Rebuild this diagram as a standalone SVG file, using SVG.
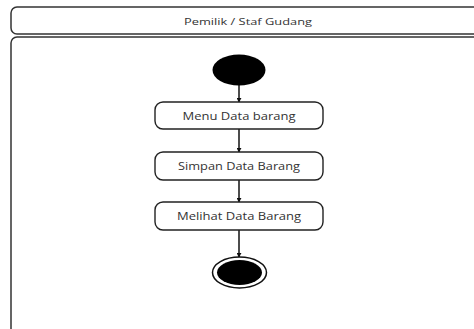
<svg xmlns="http://www.w3.org/2000/svg" width="474" height="329" viewBox="0 0 474 329">
<style>
.frame{fill:#fff;stroke:#333;stroke-width:1.5}
.act{fill:#fff;stroke:#222;stroke-width:1.4}
.lbl{font-family:"Open Sans","Liberation Sans",sans-serif;font-size:10px;fill:#333;text-anchor:middle;dominant-baseline:central}
.conn{stroke:#111;stroke-width:1.5;fill:none;marker-end:url(#ah)}
</style>
<defs>
<marker id="ah" viewBox="0 0 6 6" refX="5" refY="3" markerWidth="5" markerHeight="5" orient="auto" markerUnits="userSpaceOnUse">
<path d="M0,0 L6,3 L0,6 z" fill="#111"/>
</marker>
</defs>
<rect width="474" height="329" fill="#fff"/>
<g id="header">
<rect class="frame" x="11" y="7" width="480" height="27" rx="6"/>
<text class="lbl" x="248" y="21" textLength="128" lengthAdjust="spacingAndGlyphs" style="font-size:9.5px">Pemilik / Staf Gudang</text>
</g>
<g id="lane">
<rect class="frame" x="11" y="37" width="480" height="310" rx="6"/>
</g>
<g id="connectors">
<line class="conn" x1="239" y1="85" x2="239" y2="102"/>
<line class="conn" x1="239" y1="129" x2="239" y2="152"/>
<line class="conn" x1="239" y1="180" x2="239" y2="202"/>
<line class="conn" x1="239" y1="230" x2="239" y2="257"/>
</g>
<g id="start">
<ellipse cx="239" cy="70" rx="26.5" ry="15.5" fill="#000"/>
</g>
<g id="menu">
<rect class="act" x="155" y="102" width="168" height="27" rx="8"/>
<text class="lbl" x="239" y="115.5" textLength="113" lengthAdjust="spacingAndGlyphs">Menu Data barang</text>
</g>
<g id="simpan">
<rect class="act" x="155" y="152" width="168" height="28" rx="8"/>
<text class="lbl" x="239" y="166" textLength="122" lengthAdjust="spacingAndGlyphs">Simpan Data Barang</text>
</g>
<g id="melihat">
<rect class="act" x="155" y="202" width="168" height="28" rx="8"/>
<text class="lbl" x="239" y="216" textLength="124" lengthAdjust="spacingAndGlyphs">Melihat Data Barang</text>
</g>
<g id="end">
<ellipse cx="239.5" cy="272.5" rx="27" ry="15.5" fill="#fff" stroke="#111" stroke-width="1.5"/>
<ellipse cx="239.5" cy="272.5" rx="22.5" ry="12.5" fill="#000"/>
</g>
</svg>
